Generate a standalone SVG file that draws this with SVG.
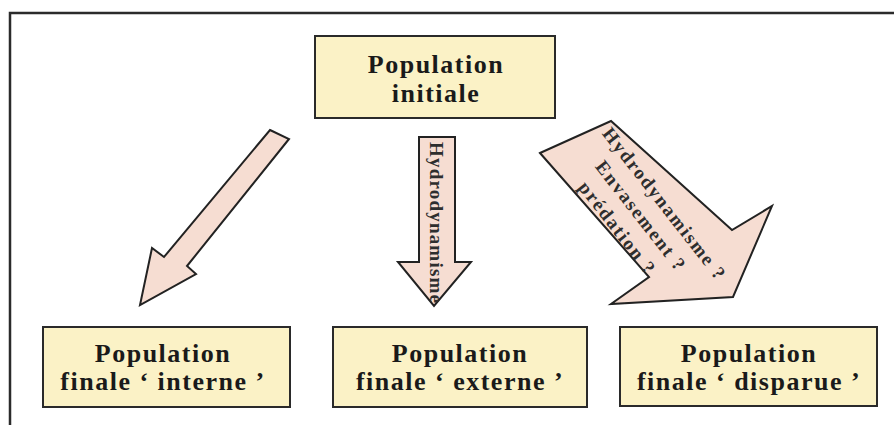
<svg xmlns="http://www.w3.org/2000/svg" width="894" height="425" viewBox="0 0 894 425">
<style>
.frame{fill:none;stroke:#2b2b2b;stroke-width:2.5}
.box{fill:#fbf2c6;stroke:#2a2a2a;stroke-width:2}
.arrow{fill:#f6ddd2;stroke:#222;stroke-width:2;stroke-linejoin:miter}
.lbl{font-family:"Liberation Serif","Times New Roman",serif;font-weight:bold;font-size:26px;letter-spacing:1.5px;fill:#1a1a1a;text-anchor:middle}
.atxt{font-family:"Liberation Serif","Times New Roman",serif;font-weight:bold;font-size:19px;letter-spacing:1.8px;fill:#2e2e2e}
</style>
<rect width="894" height="425" fill="#ffffff"/>
<path class="frame" d="M10,425 V13 H894"/>
<g id="connectors">
<polygon class="arrow" points="270,130 289,139 187,266 196,274 140,305 152,248 164,257"/>
<g id="arrow-externe">
<polygon class="arrow" points="419,137 455,137 455,262 471,262 434,306 398,262 419,262"/>
<text class="atxt" style="letter-spacing:1.2px" transform="translate(430,142) rotate(90)">Hydrodynamisme</text>
</g>
<g id="arrow-disparue">
<polygon class="arrow" points="540,153 611,121 732,230 772,206 733,297 611,304 649,277"/>
<g transform="translate(636,220) rotate(52)">
<text class="atxt" text-anchor="middle" x="5" y="-26">Hydrodynamisme ?</text>
<text class="atxt" text-anchor="middle" x="0" y="0">Envasement ?</text>
<text class="atxt" text-anchor="middle" x="-5" y="26">prédation ?</text>
</g>
</g>
</g>
<g id="node-initiale">
<rect class="box" x="315" y="36" width="240" height="82"/>
<text class="lbl" x="436" y="73">Population</text>
<text class="lbl" x="436" y="102">initiale</text>
</g>
<g id="node-interne">
<rect class="box" x="43" y="327" width="247" height="80"/>
<text class="lbl" x="163" y="362">Population</text>
<text class="lbl" x="163" y="390">finale ‘ interne ’</text>
</g>
<g id="node-externe">
<rect class="box" x="333" y="327" width="254" height="80"/>
<text class="lbl" x="460" y="362">Population</text>
<text class="lbl" x="460" y="390">finale ‘ externe ’</text>
</g>
<g id="node-disparue">
<rect class="box" x="620" y="327" width="257" height="79"/>
<text class="lbl" x="749" y="362">Population</text>
<text class="lbl" x="749" y="390">finale ‘ disparue ’</text>
</g>
</svg>
